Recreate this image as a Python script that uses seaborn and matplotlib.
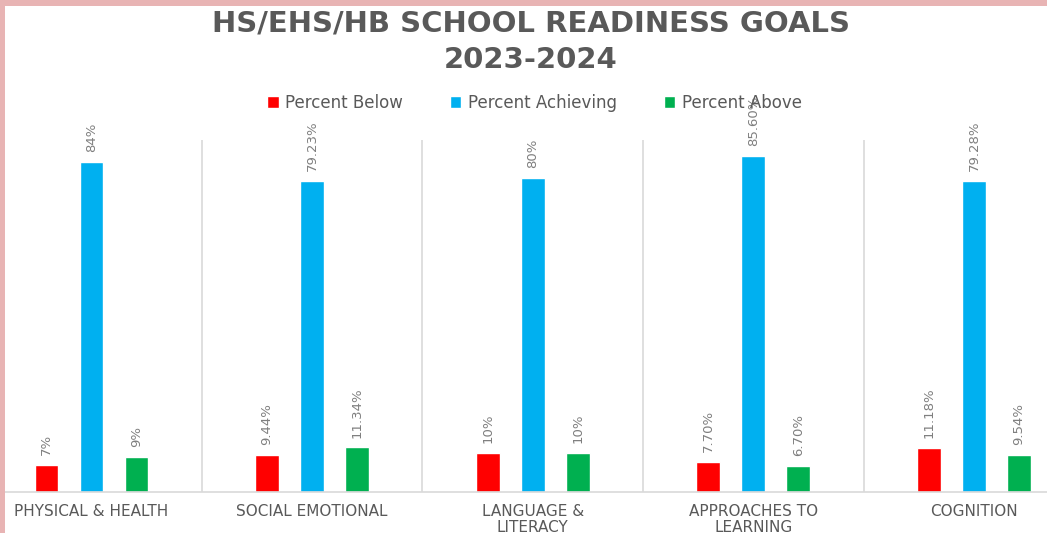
import matplotlib
matplotlib.use("Agg")
import matplotlib.pyplot as plt
import seaborn as sns
import pandas as pd
from matplotlib.patches import Rectangle

categories = ["PHYSICAL & HEALTH", "SOCIAL EMOTIONAL", "LANGUAGE &\nLITERACY",
              "APPROACHES TO\nLEARNING", "COGNITION"]
series = ["Percent Below", "Percent Achieving", "Percent Above"]
below = [7, 9.44, 10, 7.70, 11.18]
achieving = [84, 79.23, 80, 85.60, 79.28]
above = [9, 11.34, 10, 6.70, 9.54]
below_labels = ["7%", "9.44%", "10%", "7.70%", "11.18%"]
achieving_labels = ["84%", "79.23%", "80%", "85.60%", "79.28%"]
above_labels = ["9%", "11.34%", "10%", "6.70%", "9.54%"]
colors = ["#FF0000", "#00B0F0", "#00B050"]

rows = []
for s, vals in zip(series, [below, achieving, above]):
    for c, v in zip(categories, vals):
        rows.append({"cat": c, "series": s, "value": v})
df = pd.DataFrame(rows)

sns.set_theme(style="white")
plt.rcParams["font.family"] = ["DejaVu Sans"]

W, H = 1047, 533
fig = plt.figure(figsize=(W / 100, H / 100), dpi=100)
fig.patch.set_facecolor("white")

# axes: left px 5, right px 1047, top px 140, bottom px 492
ax = fig.add_axes([5 / W, (H - 492) / H, (W - 5) / W, (492 - 140) / H])
sns.barplot(data=df, x="cat", y="value", hue="series", order=categories,
            hue_order=series, palette=colors, width=0.612, gap=0.47,
            saturation=1, ax=ax, legend=True)

ax.set_xlim(-0.392, 4.331)
ax.set_ylim(0, 89.6)
ax.set_xlabel("")
ax.set_ylabel("")
ax.set_yticks([])
for sp in ["top", "right", "left"]:
    ax.spines[sp].set_visible(False)
ax.spines["bottom"].set_color("#d9d9d9")
ax.spines["bottom"].set_linewidth(1.2)
for xv in [0.5, 1.5, 2.5, 3.5]:
    ax.axvline(xv, color="#d9d9d9", lw=1.2, zorder=0)

ax.tick_params(axis="x", length=0, pad=9)
for lbl in ax.get_xticklabels():
    lbl.set_color("#595959")
    lbl.set_fontsize(11)
    lbl.set_linespacing(1.05)
    lbl.set_verticalalignment("top")

all_labels = [below_labels, achieving_labels, above_labels]
for container, labs in zip(ax.containers, all_labels):
    ax.bar_label(container, labels=labs, rotation=90, padding=7,
                 color="#7f7f7f", fontsize=9.5)

handles, lbls = ax.get_legend_handles_labels()
ax.legend_.remove()
fig.legend(handles, lbls, loc="center", bbox_to_anchor=(534.5 / W, 1 - 103 / H),
           ncol=3, frameon=False, handlelength=0.7, handleheight=0.7,
           handletextpad=0.4, columnspacing=2.8,
           prop={"size": 12}, labelcolor="#595959")

fig.text(531 / W, 1 - 23 / H, "HS/EHS/HB SCHOOL READINESS GOALS", ha="center",
         va="center", fontsize=21, fontweight="bold", color="#595959")
fig.text(531 / W, 1 - 60 / H, "2023-2024", ha="center", va="center",
         fontsize=21, fontweight="bold", color="#595959")

# pink border
pink = "#E8B4B4"
fig.patches.append(Rectangle((0, 0), 5 / W, 1, transform=fig.transFigure,
                             facecolor=pink, edgecolor="none", zorder=10))
fig.patches.append(Rectangle((0, 1 - 6 / H), 1, 6 / H, transform=fig.transFigure,
                             facecolor=pink, edgecolor="none", zorder=10))

fig.savefig("out.png", dpi=100)
